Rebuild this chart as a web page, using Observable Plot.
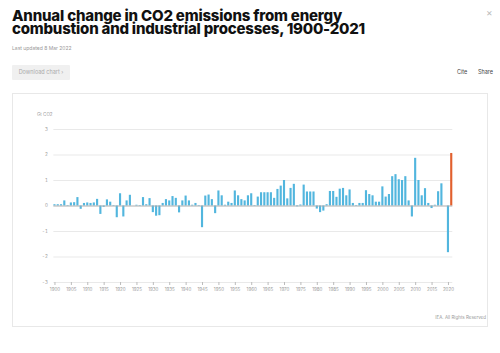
<!DOCTYPE html>
<html><head><meta charset="utf-8">
<script src="https://cdn.jsdelivr.net/npm/d3@7"></script>
<script src="https://cdn.jsdelivr.net/npm/@observablehq/plot@0.6"></script>
<style>
html,body{margin:0;padding:0;background:#fff;}
#page{position:relative;width:500px;height:353px;overflow:hidden;font-family:Inter,"Noto Sans",sans-serif;}
.abs{position:absolute;white-space:nowrap;}
#title{font-weight:800;font-size:15px;line-height:13px;color:#111;left:12px;top:9px;}
#sub{left:12px;top:45px;font-size:5px;color:#999;}
#dl{left:12px;top:65px;width:58px;height:15px;background:#f0f0f0;color:#aaa;font-size:5.5px;line-height:15px;text-align:center;border-radius:1px;}
#cite{left:457px;top:69px;font-size:5.5px;color:#444;}
#share{left:478px;top:69px;font-size:5.5px;color:#444;}
#close{left:486px;top:6px;font-size:10px;color:#bbb;}
#box{left:12px;top:93px;width:476px;height:234px;border:1px solid #e8e8e8;box-sizing:border-box;}
#unit{left:37px;top:112px;font-size:4.5px;color:#999;}
#cap{right:14px;top:315px;font-size:4.5px;color:#999;}
#chart{left:12px;top:93px;}
</style></head>
<body><div id="page">
<div class="abs" id="title"><span id="t1">Annual change in CO2 emissions from energy</span><br><span id="t2">combustion and industrial processes, 1900-2021</span></div>
<div class="abs" id="close">×</div>
<div class="abs" id="sub">Last updated 8 Mar 2022</div>
<div class="abs" id="dl">Download chart ›</div>
<div class="abs" id="cite">Cite</div>
<div class="abs" id="share">Share</div>
<div class="abs" id="box"></div>
<div class="abs" id="chart"></div>
<div class="abs" id="unit">Gt CO2</div>
<div class="abs" id="cap">IEA. All Rights Reserved</div>
</div>
<script>
const years = d3.range(1900, 2022);
const values = [
 0.05, 0.05, 0.05, 0.20, 0.02, 0.12, 0.13, 0.33, -0.13, 0.10,
 0.12, 0.10, 0.12, 0.26, -0.33, -0.05, 0.24, 0.15, 0.02, -0.46,
 0.48, -0.43, 0.20, 0.42, 0.00, 0.03, -0.02, 0.33, 0.05, 0.29,
 -0.26, -0.40, -0.38, 0.10, 0.25, 0.20, 0.37, 0.30, -0.27, 0.20,
 0.39, 0.20, 0.03, 0.10, 0.02, -0.85, 0.39, 0.43, 0.25, -0.30,
 0.59, 0.40, 0.03, 0.15, 0.10, 0.59, 0.40, 0.25, 0.20, 0.40,
 0.48, 0.02, 0.35, 0.52, 0.52, 0.52, 0.52, 0.30, 0.65, 0.78,
 1.00, 0.28, 0.69, 0.85, -0.03, 0.04, 0.82, 0.55, 0.55, 0.55,
 -0.12, -0.26, -0.20, 0.05, 0.57, 0.57, 0.34, 0.66, 0.69, 0.40,
 0.63, 0.10, 0.02, 0.10, 0.10, 0.60, 0.45, 0.40, 0.15, 0.15,
 0.75, 0.35, 0.45, 1.15, 1.23, 1.03, 1.00, 1.15, 0.20, -0.43,
 1.87, 1.00, 0.40, 0.68, 0.10, -0.10, 0.03, 0.56, 0.87, 0.00,
 -1.83, 2.06
];
const latestYear = 2021;
const xTicks = [1900,1905,1910,1915,1920,1925,1930,1935,1940,1945,1950,1955,1960,1965,1970,1975,1980,1985,1990,1995,2000,2005,2010,2015,2020];
const yTicks = [-3,-2,-1,0,1,2,3];
const blue = "#52b6de", orange = "#e2602e";

const data = years.map((year, i) => ({year, value: values[i]}));

const chart = Plot.plot({
  width: 476, height: 205,
  marginLeft: 41.4, marginRight: 35.7, marginTop: 36, marginBottom: 16,
  style: {fontFamily: "Inter, sans-serif", background: "transparent", overflow: "visible"},
  x: {type: "band", domain: years, paddingInner: 0.35, paddingOuter: 0, axis: null},
  y: {domain: [-3, 3], axis: null},
  marks: [
    Plot.gridY(yTicks, {stroke: "#e9e9e9", strokeOpacity: 1}),
    Plot.axisY(yTicks, {tickSize: 0, tickPadding: 6, fontSize: 4.5, fill: "#999", label: null, tickFormat: d => String(d)}),
    Plot.barY(data, {x: "year", y: "value", fill: d => d.year === latestYear ? orange : blue}),
    Plot.ruleY([0], {stroke: "#aaa", strokeWidth: 0.8}),
    Plot.axisX(xTicks, {tickSize: 3, tickPadding: 2, fontSize: 4.5, fill: "#999", stroke: "#bbb", label: null, tickFormat: d => String(d)})
  ]
});
document.getElementById("chart").appendChild(chart);

function fit(id, target) {
  const el = document.getElementById(id);
  const w = el.getBoundingClientRect().width;
  const n = el.textContent.length;
  el.style.letterSpacing = ((target - w) / n) + "px";
}
fit("t1", 330);
fit("t2", 353);
</script>
</body></html>
